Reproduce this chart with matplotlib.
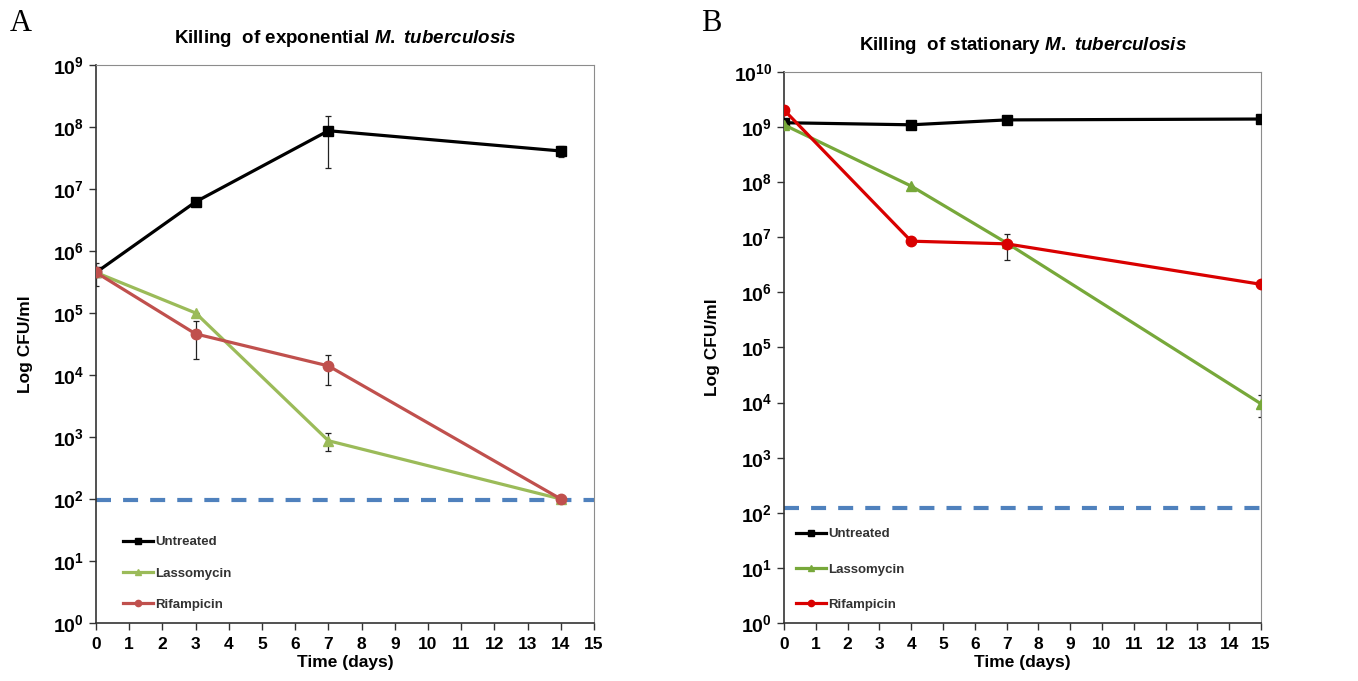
import matplotlib
matplotlib.use("Agg")
import matplotlib.pyplot as plt
from matplotlib.ticker import FixedLocator, NullLocator

plt.rcParams['font.family'] = ['Liberation Sans', 'DejaVu Sans']
plt.rcParams['mathtext.fontset'] = 'custom'
plt.rcParams['mathtext.rm'] = 'Liberation Sans:bold'
plt.rcParams['mathtext.bf'] = 'Liberation Sans:bold'
plt.rcParams['mathtext.it'] = 'Liberation Sans:italic:bold'

# panel A - exponential culture
days_a = [0, 3, 7, 14]
untreated_a = [4.5e5, 6.2e6, 8.7e7, 4.1e7]
untreated_a_err = [1.8e5, 0, 6.5e7, 8e6]
lasso_a = [4.5e5, 1.0e5, 8.7e2, 100]
lasso_a_err = [0, 0, 2.8e2, 0]
rif_a = [4.5e5, 4.6e4, 1.4e4, 100]
rif_a_err = [0, 2.8e4, 7e3, 0]
limit_a = 95

# panel B - stationary culture
days_b = [0, 4, 7, 15]
untreated_b = [1.2e9, 1.1e9, 1.35e9, 1.4e9]
untreated_b_err = [0, 0, 0, 1.5e8]
lasso_b = [1.1e9, 8.5e7, 7.9e6, 9.5e3]
lasso_b_err = [0, 0, 0, 4e3]
rif_b = [2.05e9, 8.5e6, 7.6e6, 1.4e6]
rif_b_err = [0, 0, 3.7e6, 0]
limit_b = 120

labels = ["Untreated", "Lassomycin", "Rifampicin"]
x_ticks = list(range(16))

fig = plt.figure(figsize=(13.58, 6.81), dpi=100)
ax_a = fig.add_axes([0.0707, 0.0852, 0.3667, 0.8194])
ax_b = fig.add_axes([0.5773, 0.0852, 0.3513, 0.8091])


def draw(ax, days, series, colors, limit, top_exp, title, leg_pos, ylab_pad, spacing):
    markers = ['s', '^', 'o']
    handles = []
    for (vals, err), col, mk, lab in zip(series, colors, markers, labels):
        ax.errorbar(days, vals, yerr=err, fmt='none', ecolor='#222222',
                    elinewidth=0.9, capsize=2.5, capthick=0.9, zorder=2)
        h, = ax.plot(days, vals, color=col, lw=2.3, marker=mk, markersize=7.5,
                     markerfacecolor=col, markeredgecolor=col, label=lab, zorder=3)
        handles.append(h)
    ax.axhline(limit, color='#4F81BD', lw=3, linestyle=(0, (3.6, 2.9)), zorder=1)
    ax.set_yscale('log')
    ax.set_ylim(1, 10 ** top_exp)
    ax.set_xlim(0, 15)
    ax.xaxis.set_major_locator(FixedLocator(x_ticks))
    ax.yaxis.set_major_locator(FixedLocator([10 ** i for i in range(top_exp + 1)]))
    ax.yaxis.set_minor_locator(NullLocator())
    ax.set_yticklabels([r'$10^{%d}$' % i for i in range(top_exp + 1)], fontsize=14)
    ax.set_xticklabels([str(t) for t in x_ticks], fontsize=12.5, fontweight='bold')
    ax.tick_params(axis='both', direction='out', length=5, width=1, color='#333333')
    ax.tick_params(axis='x', pad=5)
    for s in ['top', 'right']:
        ax.spines[s].set_color('#8c8c8c')
    for s in ['left', 'bottom']:
        ax.spines[s].set_color('#333333')
        ax.spines[s].set_linewidth(1.2)
    ax.set_xlabel('Time (days)', fontsize=12.5, fontweight='bold', labelpad=2)
    ax.set_ylabel('Log CFU/ml', fontsize=12.5, fontweight='bold', labelpad=ylab_pad)
    ax.set_title(title, fontsize=13.5, fontweight='bold', pad=16)
    leg = ax.legend(handles=handles, loc='lower left', bbox_to_anchor=leg_pos,
                    frameon=False, fontsize=9.5, handlelength=2.3,
                    handletextpad=0.15, labelspacing=spacing, markerscale=0.6)
    for t in leg.get_texts():
        t.set_fontweight('bold')
        t.set_color('#333333')


draw(ax_a, days_a,
     [(untreated_a, untreated_a_err), (lasso_a, lasso_a_err), (rif_a, rif_a_err)],
     ['#000000', '#9BBB59', '#C0504D'], limit_a, 9,
     r'Killing  of exponential $\mathit{M.\ tuberculosis}$', (0.03, 0.0), 14, 1.45)
draw(ax_b, days_b,
     [(untreated_b, untreated_b_err), (lasso_b, lasso_b_err), (rif_b, rif_b_err)],
     ['#000000', '#77A83A', '#D90000'], limit_b, 10,
     r'Killing  of stationary $\mathit{M.\ tuberculosis}$', (0.0, 0.0), 10, 1.75)

fig.text(0.007, 0.955, 'A', family='Liberation Serif', fontsize=22)
fig.text(0.516, 0.955, 'B', family='Liberation Serif', fontsize=22)

fig.savefig('out.png', dpi=100)
